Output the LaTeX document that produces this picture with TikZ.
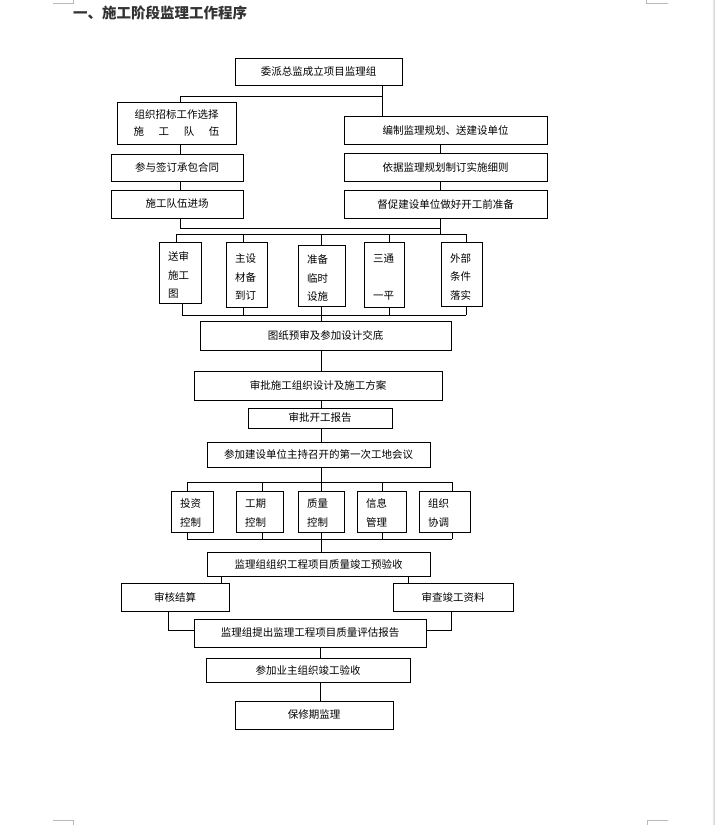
\documentclass[tikz,border=0pt]{standalone}
\usepackage{fontspec}
\setmainfont{Noto Sans CJK SC}
\begin{document}
\begin{tikzpicture}[x=1pt,y=-1pt,
  every node/.style={font=\fontsize{10.5}{12}\selectfont},
  box/.style={draw, line width=0.9pt, inner sep=0pt, align=center},
  tall/.style={draw, line width=0.9pt, inner xsep=9pt, inner ysep=0pt, align=left, font=\fontsize{10.5}{18.5}\selectfont},
  conn/.style={line width=0.9pt},
  cropmark/.style={draw=gray!55, line width=0.8pt}]
\useasboundingbox (0,0) rectangle (715,825);
\fill[white] (0,0) rectangle (715,825);
% page decorations
\draw[cropmark] (53,3) -- (73,3) -- (73,0);
\draw[cropmark] (668,3) -- (646,3) -- (646,0);
\draw[cropmark] (53,820) -- (73,820) -- (73,825);
\draw[cropmark] (668,820) -- (647,820) -- (647,825);
\shade[left color=gray!10, right color=gray!45] (712.5,0) rectangle (715,825);
% title
\node[anchor=west, inner sep=0pt, text=black!80, font=\fontsize{14.5}{16}\selectfont\bfseries] (title) at (73,12.5) {一、施工阶段监理工作程序};
% top part
\node[box, minimum width=167pt, minimum height=27pt] (b1) at (318.5,71.5) {委派总监成立项目监理组};
\node[box, minimum width=119pt, minimum height=42pt, font=\fontsize{10.5}{17}\selectfont] (L2) at (176.5,123) {组织招标工作选择\\\makebox[86pt]{施\hfill 工\hfill 队\hfill 伍}};
\node[box, minimum width=203pt, minimum height=28pt] (R2) at (445.5,130) {编制监理规划、送建设单位};
\node[box, minimum width=132pt, minimum height=27pt] (L3) at (177,167.5) {参与签订承包合同};
\node[box, minimum width=203pt, minimum height=28pt] (R3) at (445.5,167) {依据监理规划制订实施细则};
\node[box, minimum width=132pt, minimum height=28pt] (L4) at (177,204) {施工队伍进场};
\node[box, minimum width=203pt, minimum height=28pt] (R4) at (445.5,204) {督促建设单位做好开工前准备};
% five preparation boxes
\node[tall, text width=24pt, minimum height=61pt] (p1) at (180,272.5) {\rule{0pt}{14pt}送审\\施工\\图};
\node[tall, text width=23pt, minimum height=65pt] (p2) at (246.5,274.5) {\rule{0pt}{14pt}主设\\材备\\到订};
\node[tall, text width=29pt, minimum height=61pt] (p3) at (321.5,275.5) {\rule{0pt}{14pt}准备\\临时\\设施};
\node[tall, text width=22pt, minimum height=65pt] (p4) at (384,274.5) {\rule{0pt}{14pt}三通\\\mbox{}\\一平};
\node[tall, text width=23pt, minimum height=64pt] (p5) at (461.5,274) {\rule{0pt}{14pt}外部\\条件\\落实};
% main column
\node[box, minimum width=251pt, minimum height=29pt] (D1) at (325.5,335.5) {图纸预审及参加设计交底};
\node[box, minimum width=248pt, minimum height=29pt] (D2) at (318,385.5) {审批施工组织设计及施工方案};
\node[box, minimum width=144pt, minimum height=20pt] (D3) at (320,418) {审批开工报告};
\node[box, minimum width=223pt, minimum height=25pt] (D4) at (318.5,454.5) {参加建设单位主持召开的第一次工地会议};
% control boxes
\node[tall, text width=24pt, minimum height=41pt] (c1) at (192,511.5) {\rule{0pt}{12pt}投资\\控制};
\node[tall, text width=29pt, minimum height=41pt] (c2) at (259.5,511.5) {\rule{0pt}{12pt}工期\\控制};
\node[tall, text width=28pt, minimum height=41pt] (c3) at (321,511.5) {\rule{0pt}{12pt}质量\\控制};
\node[tall, text width=31pt, minimum height=41pt] (c4) at (381.5,511.5) {\rule{0pt}{12pt}信息\\管理};
\node[tall, text width=33pt, minimum height=41pt] (c5) at (444.5,511.5) {\rule{0pt}{12pt}组织\\协调};
% lower part
\node[box, minimum width=223pt, minimum height=24pt] (E1) at (318.5,564) {监理组组织工程项目质量竣工预验收};
\node[box, minimum width=108pt, minimum height=28pt] (F1) at (175,597) {审核结算};
\node[box, minimum width=120pt, minimum height=28pt] (F2) at (453,597) {审查竣工资料};
\node[box, minimum width=232pt, minimum height=28pt] (G) at (310,633) {监理组提出监理工程项目质量评估报告};
\node[box, minimum width=204pt, minimum height=24pt] (H) at (308,670) {参加业主组织竣工验收};
\node[box, minimum width=158pt, minimum height=28pt] (I) at (314,715) {保修期监理};
% helper coordinates
\coordinate (xl) at (180,0);
\coordinate (xr) at (382,0);
\coordinate (xR) at (440,0);
\coordinate (xm) at (321,0);
\coordinate (xn) at (320,0);
\coordinate (t1) at (180,96);
\coordinate (t2) at (180,228);
\coordinate (t3) at (440,234);
\coordinate (a1) at (176,234);
\coordinate (a2) at (243,234);
\coordinate (a3) at (321,234);
\coordinate (a4) at (389,234);
\coordinate (a5) at (466,234);
\coordinate (q1) at (182,315);
\coordinate (q2) at (243,315);
\coordinate (q3) at (321,315);
\coordinate (q4) at (389,315);
\coordinate (q5) at (466,315);
\coordinate (r1) at (187,482);
\coordinate (r2) at (262,482);
\coordinate (r3) at (321,482);
\coordinate (r4) at (382,482);
\coordinate (r5) at (452,482);
\coordinate (s1) at (187,539);
\coordinate (s2) at (262,539);
\coordinate (s3) at (321,539);
\coordinate (s4) at (382,539);
\coordinate (s5) at (452,539);
\coordinate (u1) at (221,0);
\coordinate (u2) at (408,0);
\coordinate (v1) at (168,630);
\coordinate (v2) at (451,630);
% connectors: top
\draw[conn] (b1.south -| xr) -- (R2.north -| xr);
\draw[conn] (L2.north -| t1) -- (t1) -- (t1 -| xr);
\draw[conn] (L2.south -| xl) -- (L3.north -| xl);
\draw[conn] (L3.south -| xl) -- (L4.north -| xl);
\draw[conn] (R2.south -| xR) -- (R3.north -| xR);
\draw[conn] (R3.south -| xR) -- (R4.north -| xR);
\draw[conn] (L4.south -| t2) -- (t2) -- (t2 -| xR);
\draw[conn] (R4.south -| t3) -- (t3);
\draw[conn] (a1) -- (a5);
\draw[conn] (q1) -- (q5);
\foreach \i in {1,...,5}{
  \draw[conn] (a\i) -- (p\i.north -| a\i);
  \draw[conn] (p\i.south -| q\i) -- (q\i);
}
\draw[conn] (q3) -- (D1.north -| q3);
\draw[conn] (D1.south -| xm) -- (D2.north -| xm);
\draw[conn] (D2.south -| xm) -- (D3.north -| xm);
\draw[conn] (D3.south -| xm) -- (D4.north -| xm);
\draw[conn] (D4.south -| r3) -- (r3);
\draw[conn] (r1) -- (r5);
\draw[conn] (s1) -- (s5);
\foreach \i in {1,...,5}{
  \draw[conn] (r\i) -- (c\i.north -| r\i);
  \draw[conn] (c\i.south -| s\i) -- (s\i);
}
\draw[conn] (s3) -- (E1.north -| s3);
\draw[conn] (E1.south -| u1) -- (F1.north -| u1);
\draw[conn] (E1.south -| u2) -- (F2.north -| u2);
\draw[conn] (F1.south -| v1) -- (v1) -- (G.west |- v1);
\draw[conn] (F2.south -| v2) -- (v2) -- (G.east |- v2);
\draw[conn] (G.south -| xn) -- (H.north -| xn);
\draw[conn] (H.south -| xn) -- (I.north -| xn);
\end{tikzpicture}
\end{document}
